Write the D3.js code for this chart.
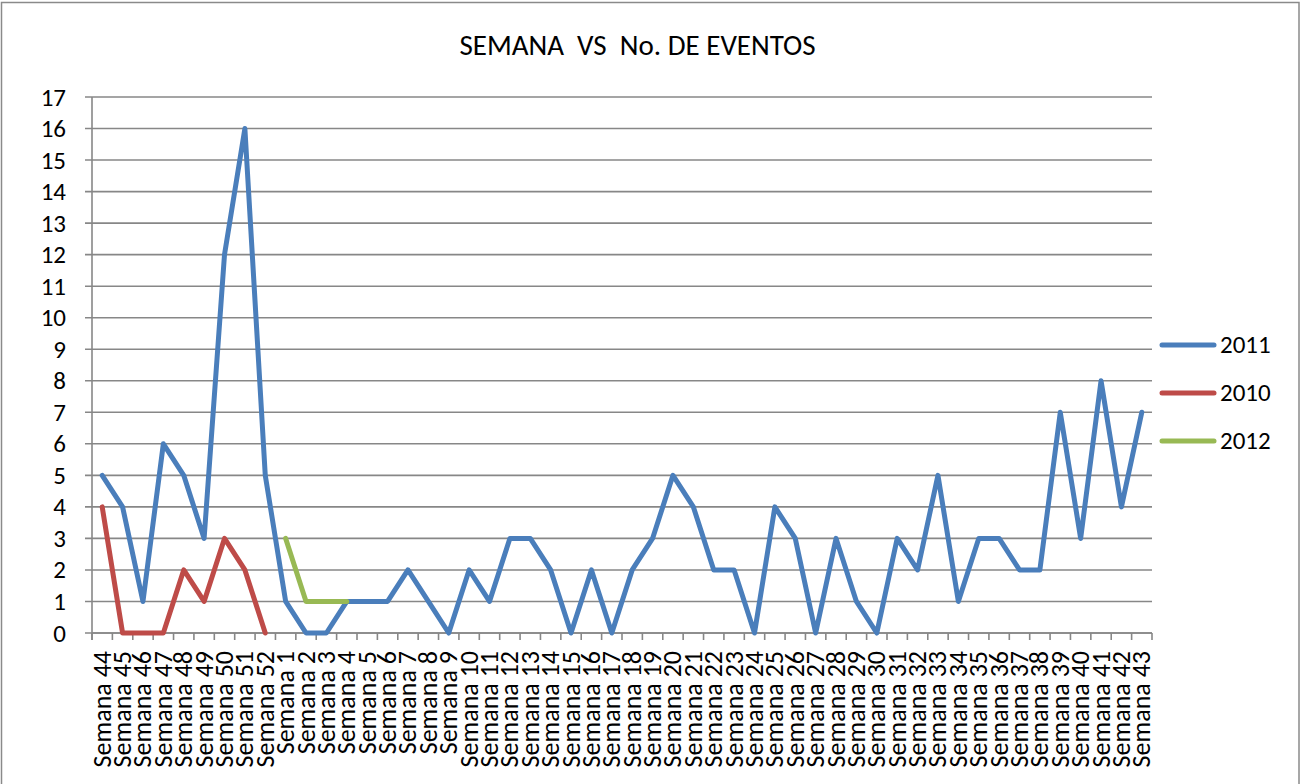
<!DOCTYPE html>
<html><head><meta charset="utf-8">
<script src="https://cdn.jsdelivr.net/npm/d3@7"></script>
<style>
html,body{margin:0;padding:0;background:#fff;}
text{font-family:Carlito,Calibri,Lato,"Open Sans",sans-serif;fill:#000;}
</style></head>
<body><svg id="c" width="1300" height="784"></svg>
<script>
const weeks = ["Semana 44","Semana 45","Semana 46","Semana 47","Semana 48","Semana 49","Semana 50","Semana 51","Semana 52",
"Semana 1","Semana 2","Semana 3","Semana 4","Semana 5","Semana 6","Semana 7","Semana 8","Semana 9","Semana 10",
"Semana 11","Semana 12","Semana 13","Semana 14","Semana 15","Semana 16","Semana 17","Semana 18","Semana 19","Semana 20",
"Semana 21","Semana 22","Semana 23","Semana 24","Semana 25","Semana 26","Semana 27","Semana 28","Semana 29","Semana 30",
"Semana 31","Semana 32","Semana 33","Semana 34","Semana 35","Semana 36","Semana 37","Semana 38","Semana 39","Semana 40",
"Semana 41","Semana 42","Semana 43"];
const s2011 = [5,4,1,6,5,3,12,16,5, 1,0,0,1,1,1,2,1,0,2, 1,3,3,2,0,2,0,2,3,5, 4,2,2,0,4,3,0,3,1,0, 3,2,5,1,3,3,2,2,7,3, 8,4,7];
const s2010 = [4,0,0,0,2,1,3,2,0];
const s2012 = [null,null,null,null,null,null,null,null,null, 3,1,1,1];
const yTicks = d3.range(0,18);
const seriesNames = ["2011","2010","2012"];
const seriesColors = ["#4A7EBB","#BE4B48","#98B954"];
const seriesData = [s2011, s2010, s2012];

const svg = d3.select("#c");
svg.append("rect").attr("x",1.5).attr("y",2.5).attr("width",1297.5).attr("height",785)
  .attr("fill","#fff").attr("stroke","#8a8a8a").attr("stroke-width",1.5);

const L=92, R=1152, T=97, B=633;
const x = d3.scaleBand().domain(weeks).range([L,R]);
const y = d3.scaleLinear().domain([0,17]).range([B,T]);
const gridC = "#878787";

// gridlines
svg.append("g").selectAll("line").data(yTicks).join("line")
  .attr("x1",L-7).attr("x2",R).attr("y1",d=>y(d)).attr("y2",d=>y(d))
  .attr("stroke",gridC).attr("stroke-width",1.6);

// y axis labels
const ya = svg.append("g").attr("transform",`translate(${L},0)`)
  .call(d3.axisLeft(y).tickValues(yTicks).tickSize(0).tickPadding(26).tickFormat(d3.format("d")));
ya.select(".domain").remove();
ya.selectAll("text").attr("font-size",25).attr("dy","0.32em")
  .style("font-family","Carlito,Calibri,Lato,sans-serif");
svg.append("line").attr("x1",L).attr("x2",L).attr("y1",T).attr("y2",B+7).attr("stroke",gridC).attr("stroke-width",1.6);

// x axis
svg.append("line").attr("x1",L).attr("x2",R).attr("y1",B).attr("y2",B).attr("stroke",gridC).attr("stroke-width",1.6);
const bounds = weeks.map(w=>x(w)).concat([R]);
svg.append("g").selectAll("line").data(bounds).join("line")
  .attr("x1",d=>d).attr("x2",d=>d).attr("y1",B).attr("y2",B+7)
  .attr("stroke",gridC).attr("stroke-width",1.6);
svg.append("g").selectAll("text").data(weeks).join("text")
  .attr("transform",d=>`translate(${x(d)+x.bandwidth()/2+8.5},${B+18}) rotate(-90)`)
  .attr("text-anchor","end").attr("font-size",26).text(d=>d);

// lines
const line = d3.line().defined(d=>d.v!=null).x(d=>x(d.w)+x.bandwidth()/2).y(d=>y(d.v));
seriesData.forEach((arr,i)=>{
  const pts = arr.map((v,j)=>({w:weeks[j],v:v}));
  svg.append("path").datum(pts).attr("d",line).attr("fill","none")
    .attr("stroke",seriesColors[i]).attr("stroke-width",5)
    .attr("stroke-linejoin","round").attr("stroke-linecap","round");
});

// title
svg.append("text").attr("x",637.5).attr("y",55).attr("text-anchor","middle")
  .attr("font-size",29).attr("xml:space","preserve").style("white-space","pre")
  .text("SEMANA  VS  No. DE EVENTOS");

// legend
const lg = svg.append("g");
seriesNames.forEach((n,i)=>{
  const yy = 345 + i*48;
  lg.append("line").attr("x1",1162).attr("x2",1214).attr("y1",yy).attr("y2",yy)
    .attr("stroke",seriesColors[i]).attr("stroke-width",5).attr("stroke-linecap","round");
  lg.append("text").attr("x",1220).attr("y",yy+8).attr("font-size",25).text(n);
});
</script></body></html>
